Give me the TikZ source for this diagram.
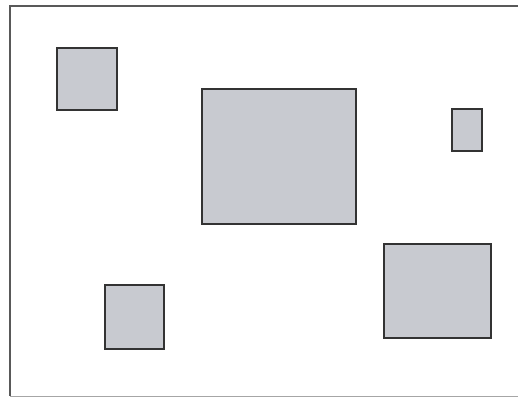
\documentclass[tikz,border=0pt]{standalone}
\begin{document}
\begin{tikzpicture}[x=1pt,y=-1pt,
  box/.style={draw=black!80, line width=1.1pt, fill=boxgray},
  frameline/.style={draw=black!65, line width=1.2pt}]
\definecolor{boxgray}{RGB}{200,202,208}
\useasboundingbox (0,0) rectangle (518,399);
\fill[white] (0,0) rectangle (518,399);
% outer frame (right side lies beyond the picture)
\draw[frameline] (520,6) -- (10,6) -- (10,396);
\draw[draw=black!35, line width=1pt] (10,396) -- (520,396);
% boxes
\draw[box] (57,48) rectangle (117,110);
\draw[box] (202,89) rectangle (356,224);
\draw[box] (452,109) rectangle (482,151);
\draw[box] (384,244) rectangle (491,338);
\draw[box] (105,285) rectangle (164,349);
\end{tikzpicture}
\end{document}
